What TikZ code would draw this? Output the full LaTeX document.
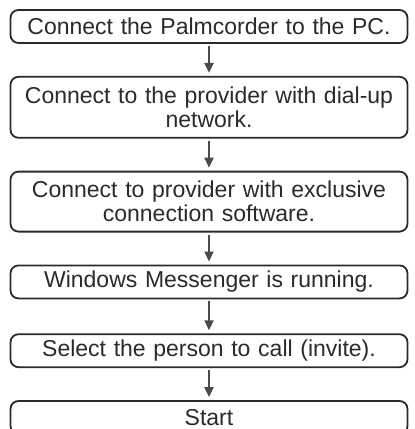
\documentclass[tikz,border=0pt]{standalone}
\usepackage{fontspec}
\setmainfont{Liberation Sans}
\usetikzlibrary{arrows.meta,positioning}
\definecolor{ink}{HTML}{2A2A2A}
\newcommand{\myarrow}{Triangle[width=9bp,length=10bp]}
\tikzset{
  stepbox/.style={draw=ink, line width=1.8bp, rounded corners=8bp,
    minimum width=397bp, minimum height=33bp, text width=395bp,
    align=center, inner sep=1bp, text=ink,
    font=\fontsize{23bp}{24bp}\selectfont},
  flow/.style={-\myarrow, draw=ink!85, line width=2bp, shorten <=2bp, shorten >=3bp}
}
\begin{document}
\begin{tikzpicture}[x=1bp,y=-1bp, node distance=32bp]
  % frame is (0,0) to (415,429)
  \useasboundingbox (0,0) rectangle (415,429);

  % steps
  \node[stepbox] (palm) at (209,26.5) {Connect the Palmcorder to the PC.};
  \node[stepbox, minimum height=61bp, below=of palm] (dialup) {Connect to the provider with dial-up\\network.};
  \node[stepbox, minimum height=60bp, below=of dialup] (software) {Connect to provider with exclusive\\connection software.};
  \node[stepbox, below=of software] (messenger) {Windows Messenger is running.};
  \node[stepbox, below=34bp of messenger] (select) {Select the person to call (invite).};
  \node[stepbox, below=of select] (start) {Start};

  % arrows
  \draw[flow] (palm) -- (dialup);
  \draw[flow] (dialup) -- (software);
  \draw[flow] (software) -- (messenger);
  \draw[flow] (messenger) -- (select);
  \draw[flow] (select) -- (start);
\end{tikzpicture}
\end{document}
